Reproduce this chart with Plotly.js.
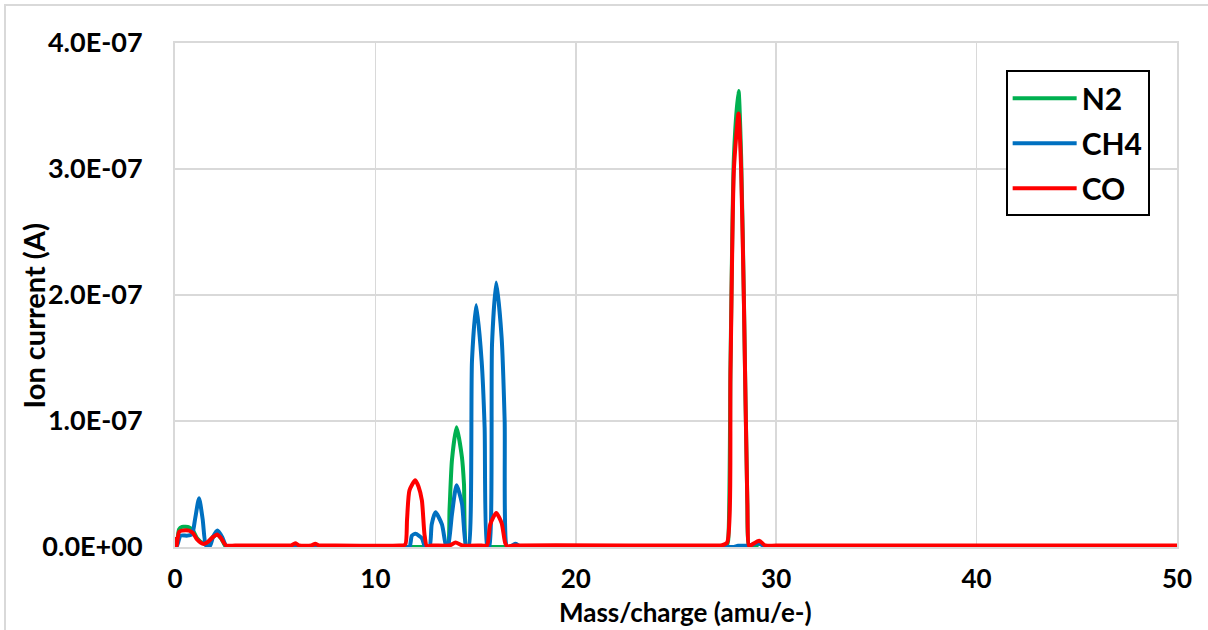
<!DOCTYPE html>
<html>
<head>
<meta charset="utf-8">
<script src="https://cdn.plot.ly/plotly-3.0.1.min.js"></script>
<style>
  html, body { margin: 0; padding: 0; background: #ffffff; overflow: hidden; }
  #wrap { position: relative; width: 1208px; height: 630px; }
  #chart { position: absolute; left: 0; top: 0; width: 1208px; height: 630px; }
  #frame { position: absolute; left: 4px; top: 4px; width: 1400px; height: 800px;
           border: 2px solid #d9d9d9; pointer-events: none; }
</style>
</head>
<body>
<div id="wrap">
  <div id="chart"></div>
  <div id="frame"></div>
</div>
<script>
// ---- data (mass/charge in amu/e-, ion current in A) ----
const seriesNames = ["N2", "CH4", "CO"];
const xTitle = "Mass/charge (amu/e-)";
const yTitle = "Ion current (A)";

const n2Mass = [0, 0.08, 0.2, 0.35, 0.7, 0.9, 1.1, 1.4, 1.6, 1.9, 2.1, 2.3, 2.55, 3.0,
  6.5, 6.8, 7.0, 7.2, 7.5, 13.3, 13.6, 13.7, 13.82, 14.05, 14.32, 14.42, 14.55, 14.8,
  27.2, 27.5, 27.6, 27.72, 27.89, 28.12, 28.25, 28.39, 28.56, 28.65, 28.9, 29.2, 29.5, 30, 49.5, 50];
const n2Current = [0.5e-8, 0.1e-8, 1.4e-8, 1.6e-8, 1.55e-8, 1.3e-8, 0.7e-8, 0.3e-8, 0.3e-8, 0.8e-8, 1.0e-8, 0.7e-8, 0, 0,
  0, 0, 0.15e-8, 0, 0, 0, 0, 3.0e-8, 6.9e-8, 9.5e-8, 7.1e-8, 5.0e-8, 0, 0,
  0, 0, 0.5e-8, 14.5e-8, 31e-8, 36.2e-8, 31e-8, 19.5e-8, 3.5e-8, 0, 0, 0.3e-8, 0, 0, 0, 0];

const ch4Mass = [0, 0.1, 0.28, 0.6, 0.85, 1.0, 1.2, 1.38, 1.55, 1.75, 1.9, 2.12, 2.35, 2.58, 3.0,
  11.4, 11.7, 11.82, 12.0, 12.32, 12.48, 12.7, 12.81, 13.0, 13.32, 13.54,
  13.62, 13.82, 14.05, 14.32, 14.53, 14.65, 14.82, 15.03, 15.3, 15.45, 15.58,
  15.68, 15.82, 16.03, 16.3, 16.45, 16.58, 16.8, 17.0, 17.25, 17.6,
  27.6, 27.9, 28.1, 28.6, 29.1, 29.5, 30, 49.5, 50];
const ch4Current = [0, 0.1e-8, 0.9e-8, 0.9e-8, 1.0e-8, 2.2e-8, 3.87e-8, 2.2e-8, 0.1e-8, 0.1e-8, 0.8e-8, 1.3e-8, 0.8e-8, 0, 0,
  0, 0, 0.9e-8, 1.05e-8, 0.7e-8, 0, 0, 1.8e-8, 2.75e-8, 1.8e-8, 0,
  0, 2.6e-8, 4.9e-8, 3.45e-8, 0, 0, 14.8e-8, 19.2e-8, 14.8e-8, 9.5e-8, 0,
  0, 16.1e-8, 21.0e-8, 16.6e-8, 10e-8, 0, 0.1e-8, 0.25e-8, 0, 0,
  0, 0, 0.1e-8, 0.1e-8, 0.3e-8, 0, 0, 0, 0];

const coMass = [0, 0.08, 0.2, 0.35, 0.7, 0.9, 1.1, 1.4, 1.6, 1.9, 2.1, 2.3, 2.55, 3.0,
  5.5, 5.8, 6.0, 6.2, 6.8, 7.0, 7.2, 7.5,
  11.2, 11.49, 11.58, 11.7, 11.99, 12.15, 12.32, 12.45, 12.57, 12.8,
  13.7, 14.0, 14.35, 15.3, 15.57, 15.73, 16.03, 16.3, 16.48, 16.6, 16.9,
  27.0, 27.3, 27.55, 27.72, 27.89, 28.12, 28.25, 28.39, 28.56, 28.65, 28.8, 29.15, 29.45, 30, 49.5, 50];
const coCurrent = [0.8e-8, 0.1e-8, 1.2e-8, 1.3e-8, 1.3e-8, 1.1e-8, 0.6e-8, 0.25e-8, 0.35e-8, 0.8e-8, 1.0e-8, 0.7e-8, 0.12e-8, 0.12e-8,
  0.12e-8, 0.12e-8, 0.3e-8, 0.12e-8, 0.12e-8, 0.25e-8, 0.12e-8, 0.12e-8,
  0.12e-8, 0.2e-8, 2.2e-8, 4.5e-8, 5.3e-8, 4.8e-8, 3.7e-8, 1.0e-8, 0.05e-8, 0.12e-8,
  0.12e-8, 0.35e-8, 0.12e-8, 0.12e-8, 0.12e-8, 1.8e-8, 2.7e-8, 1.9e-8, 0.3e-8, 0.05e-8, 0.12e-8,
  0.12e-8, 0.15e-8, 0.35e-8, 14e-8, 30e-8, 34.4e-8, 30e-8, 19.3e-8, 3.5e-8, 0.05e-8, 0.2e-8, 0.5e-8, 0.12e-8, 0.12e-8, 0.12e-8, 0.12e-8];

const xTickVals = [0, 10, 20, 30, 40, 50];
const yTickVals = [0, 1e-7, 2e-7, 3e-7, 4e-7];
const yTickText = ["0.0E+00", "1.0E-07", "2.0E-07", "3.0E-07", "4.0E-07"];

const colors = ["#00b050", "#0070c0", "#ff0000"];
const xs = [n2Mass, ch4Mass, coMass];
const ys = [n2Current, ch4Current, coCurrent];

const FONT = "Lato, 'Open Sans', sans-serif";
const boldFont = (size) => ({ family: FONT, size: size, color: "#000000", weight: 700 });

const traces = seriesNames.map((name, i) => ({
  type: "scatter",
  mode: "lines",
  name: name,
  legendgroup: name,
  x: xs[i],
  y: ys[i],
  line: { color: colors[i], width: 4, shape: "spline", smoothing: 0.6 },
  hoverinfo: "skip"
}));

const layout = {
  width: 1208,
  height: 630,
  margin: { l: 175, r: 31, t: 43, b: 83 },
  paper_bgcolor: "#ffffff",
  plot_bgcolor: "#ffffff",
  font: boldFont(27),
  showlegend: true,
  legend: {
    x: 0.829, y: 0.946, xanchor: "left", yanchor: "top",
    bgcolor: "#ffffff",
    bordercolor: "#000000",
    borderwidth: 2,
    font: boldFont(30),
    traceorder: "grouped",
    tracegroupgap: 3,
    itemwidth: 64
  },
  xaxis: {
    range: [0, 50],
    tickvals: xTickVals,
    ticks: "",
    ticklabelstandoff: 8,
    tickfont: boldFont(26),
    showgrid: true,
    gridcolor: "#d9d9d9",
    gridwidth: 1.6,
    zeroline: false,
    showline: true,
    mirror: true,
    linecolor: "#d9d9d9",
    linewidth: 2,
    automargin: false,
    fixedrange: true
  },
  yaxis: {
    range: [0, 4e-7],
    tickvals: yTickVals,
    ticktext: yTickText,
    ticks: "",
    ticklabelstandoff: 25,
    tickfont: boldFont(27),
    showgrid: true,
    gridcolor: "#d9d9d9",
    gridwidth: 1.6,
    zeroline: false,
    showline: true,
    mirror: true,
    linecolor: "#d9d9d9",
    linewidth: 2,
    automargin: false,
    fixedrange: true
  },
  annotations: [
    { text: xTitle, xref: "paper", yref: "paper", x: 0.5095, y: -0.1295,
      xanchor: "center", yanchor: "middle", showarrow: false, font: boldFont(26) },
    { text: yTitle, xref: "paper", yref: "paper", x: -0.1415, y: 0.458, textangle: -90,
      xanchor: "center", yanchor: "middle", showarrow: false, font: boldFont(29) }
  ]
};

Plotly.newPlot("chart", traces, layout, { displayModeBar: false, staticPlot: true });
</script>
</body>
</html>
